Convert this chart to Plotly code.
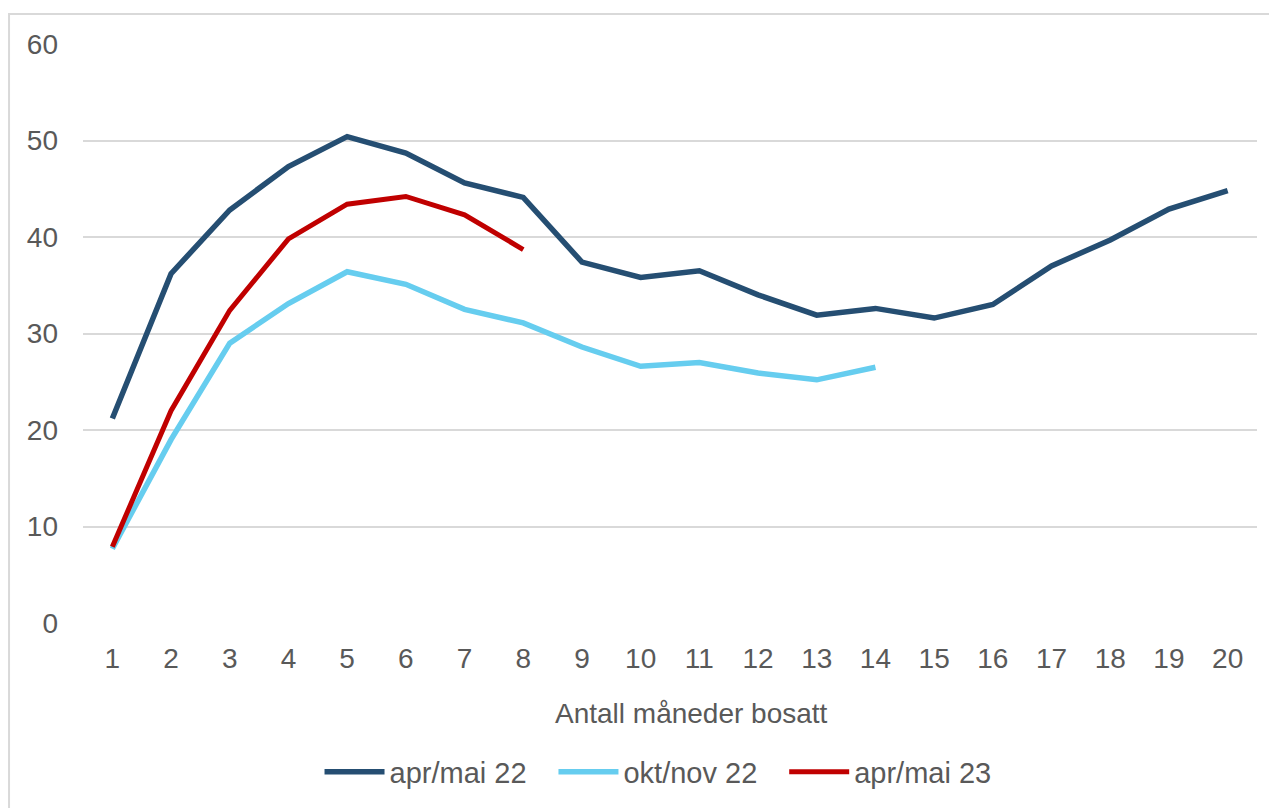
import plotly.graph_objects as go

months = list(range(1, 21))
apr_mai_22 = [21.2, 36.2, 42.8, 47.3, 50.4, 48.7, 45.6, 44.1, 37.4, 35.8,
              36.5, 34.0, 31.9, 32.6, 31.6, 33.0, 37.0, 39.7, 42.9, 44.8]
okt_nov_22 = [7.7, 19.0, 29.0, 33.1, 36.4, 35.1, 32.5, 31.1, 28.6, 26.6,
              27.0, 25.9, 25.2, 26.5]
apr_mai_23 = [7.9, 22.0, 32.4, 39.8, 43.4, 44.2, 42.3, 38.7]
x_title = "Antall måneder bosatt"

series = [
    ("apr/mai 22", apr_mai_22, "#254E72", 5.5),
    ("okt/nov 22", okt_nov_22, "#66CDEF", 5.5),
    ("apr/mai 23", apr_mai_23, "#C00000", 5),
]

pad = "\u00a0\u00a0\u2009"
fig = go.Figure()
for i, (name, vals, color, w) in enumerate(series):
    fig.add_trace(go.Scatter(
        x=months[:len(vals)], y=vals, mode="lines",
        name=name + (pad if i < len(series) - 1 else ""),
        line=dict(color=color, width=w),
    ))

font = "Liberation Sans, Arial, sans-serif"
fig.update_layout(
    width=1269, height=800,
    margin=dict(l=75, r=20, t=36, b=184),
    paper_bgcolor="white", plot_bgcolor="white",
    font=dict(family=font, size=28, color="#595959"),
    showlegend=True,
    legend=dict(orientation="h", x=0.4898, xanchor="center", y=-0.255, yanchor="middle",
                itemwidth=60, font=dict(size=29, color="#595959"), traceorder="normal"),
    xaxis=dict(range=[0.5, 20.5], tickmode="array", tickvals=months,
               ticktext=[str(m) for m in months], showgrid=False, zeroline=False,
               showline=False, ticks="", ticklabelstandoff=16),
    yaxis=dict(range=[0, 60], tickvals=[0, 10, 20, 30, 40, 50, 60],
               showgrid=True, gridcolor="#D9D9D9", gridwidth=1.5,
               zeroline=False, showline=False, ticks="", ticklabelstandoff=24),
    annotations=[dict(text=x_title, xref="paper", yref="paper", x=0.5179, y=-0.1569,
                      xanchor="center", yanchor="middle", showarrow=False,
                      font=dict(size=28, color="#595959"))],
    shapes=[dict(type="rect", xref="paper", yref="paper",
                 x0=-0.0630, x1=1.03, y0=-0.33, y1=1.0517,
                 line=dict(color="#D9D9D9", width=2), fillcolor="rgba(0,0,0,0)",
                 layer="below")],
)
fig.write_html("out.html")
